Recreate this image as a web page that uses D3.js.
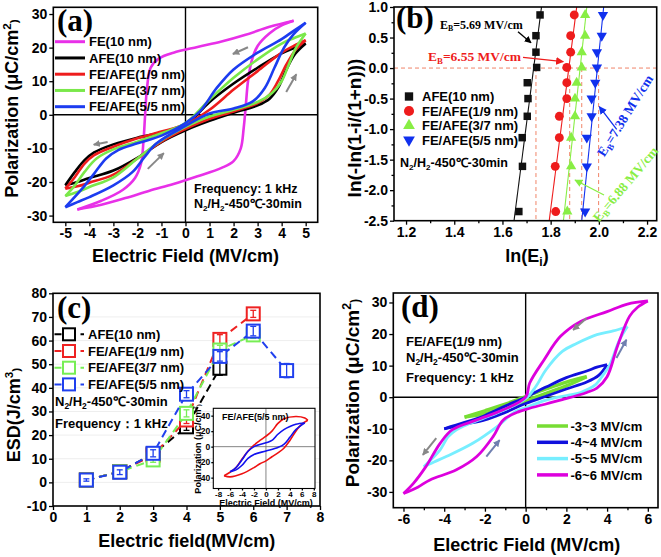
<!DOCTYPE html>
<html><head><meta charset="utf-8">
<script src="https://cdn.jsdelivr.net/npm/d3@7"></script>
<style>body{margin:0;background:#fff}svg{display:block}</style>
</head><body>
<svg id="c" width="661" height="557"></svg>
<script>
// ================= DATA =================
// Panel (a): P-E loops, [E (MV/cm), P (uC/cm2)], ascending & descending branches
const aNames = ["FE(10 nm)","AFE(10 nm)","FE/AFE(1/9 nm)","FE/AFE(3/7 nm)","FE/AFE(5/5 nm)"];
const aColors = ["#e830e8","#000000","#ee1c1c","#7ae84a","#1c3cf0"];
const aFE_up = [[-4.5,-28.2],[-3.5,-26.8],[-2.5,-24.8],[-1.5,-22.6],[-0.5,-20.6],[0.5,-18.3],[1.5,-15.8],[2.0,-13.8],[2.3,-10],[2.42,-4],[2.5,2],[2.6,10],[2.75,16],[3.0,20.5],[3.5,24.3],[4.0,26.6],[4.5,28]];
const aFE_dn = [[4.5,28],[3.5,26.2],[2.5,23.8],[1.5,21.8],[0.5,20.2],[-0.5,18.5],[-1.1,16.8],[-1.45,14],[-1.6,8],[-1.68,0],[-1.75,-8],[-1.85,-14.5],[-2.1,-18.8],[-2.6,-22.3],[-3.5,-25.6],[-4.5,-28.2]];
const aAFE_up = [[-5,-21],[-4.5,-20],[-4,-18.8],[-3,-16.6],[-2,-12.8],[-1,-8.1],[0,-4.6],[1,-1.8],[2,0.6],[3,2.8],[3.5,4.8],[3.85,8],[4.2,13.5],[4.55,18],[5,21.2]];
const aAFE_dn = [[5,21.2],[4.5,19.8],[4,18.3],[3,14],[2,9.3],[1,3.8],[0,-3],[-1,-5.3],[-2,-6.8],[-3,-8.8],[-3.8,-11.2],[-4.2,-13.5],[-4.6,-17],[-5,-21]];
const a19_up = [[-5,-22],[-4.5,-21.3],[-4,-20.2],[-3,-17.8],[-2,-13],[-1,-8],[0,-4.2],[1,-1.2],[2,1],[3,3.5],[3.5,6],[3.85,10],[4.2,15],[4.6,19.5],[5,22.2]];
const a19_dn = [[5,22.2],[4.5,20.5],[4,18.5],[3,13],[2,7.5],[1,1.5],[0,-2.8],[-1,-5],[-2,-7],[-3,-9.5],[-3.8,-12],[-4.2,-14.5],[-4.6,-18.5],[-5,-22]];
const a37_up = [[-5,-24.2],[-4.5,-23],[-4,-21.5],[-3,-18.6],[-2,-13],[-1,-7.6],[0,-3.6],[1,-0.5],[2,1.5],[3,3.8],[3.6,6.5],[4,10],[4.3,15],[4.6,20],[5,24.2]];
const a37_dn = [[5,24.2],[4.5,22.8],[4,21.2],[3,16.5],[2,11],[1,4.5],[0,-2.5],[-1,-5.5],[-2,-8],[-3,-10.3],[-3.7,-13],[-4.2,-17],[-4.6,-21],[-5,-24.2]];
const a55_up = [[-5,-27.5],[-4.5,-26],[-4,-24.5],[-3,-21],[-2.2,-17],[-1.7,-12.5],[-1.2,-8.5],[0,-3.3],[1,0.4],[2,1.9],[2.8,4],[3.3,8],[3.7,14],[4.1,20],[4.5,24],[5,27.4]];
const a55_dn = [[5,27.4],[4.5,25],[4,22.5],[3,18.5],[2,13.5],[1.3,8],[0.6,1],[0,-2.5],[-1,-6.2],[-2,-8.5],[-2.8,-10.5],[-3.3,-13],[-3.8,-17.5],[-4.3,-22],[-5,-27.5]];
const aArrows = [[2.6,20.1,1.97,18.1],[4.19,6.8,4.61,12.1],[-3.24,-8.1,-3.82,-8.9],[-1.57,-16.1,-0.9,-11.4]];
const aXTicks = [-5,-4,-3,-2,-1,0,1,2,3,4,5];
const aYTicks = [-30,-20,-10,0,10,20,30];

// Panel (b): Weibull plot
const bNames = ["AFE(10 nm)","FE/AFE(1/9 nm)","FE/AFE(3/7 nm)","FE/AFE(5/5 nm)"];
const bColors = ["#111111","#ee1c1c","#88ee44","#1030ee"];
const bY = [-2.35,-1.61,-1.14,-0.79,-0.50,-0.24,0.01,0.26,0.53,0.87];
const bX_AFE = [1.668,1.683,1.682,1.703,1.706,1.703,1.742,1.739,1.739,1.756];
const bX_19  = [1.821,1.819,1.836,1.836,1.867,1.867,1.867,1.883,1.883,1.898];
const bX_37  = [1.869,1.885,1.885,1.901,1.901,1.908,1.929,1.929,1.943,1.943];
const bX_55  = [1.943,1.950,1.950,1.970,1.970,1.985,1.992,1.992,2.012,2.017];
const bFitBottom = [1.648,1.794,1.853,1.929];   // x at y=-2.5
const bFitTop    = [1.762,1.908,1.950,2.020];   // x at y=1.0
const bLnEB = [1.739,1.879,1.929,1.999];
const bXTicks = [1.2,1.4,1.6,1.8,2.0,2.2];
const bXMinor = [1.3,1.5,1.7,1.9,2.1];
const bYTicks = [-2.5,-2.0,-1.5,-1.0,-0.5,0.0,0.5,1.0];
const bYMinor = [-2.25,-1.75,-1.25,-0.75,-0.25,0.25,0.75];

// Panel (c): ESD vs field
const cNames = ["AFE(10 nm)","FE/AFE(1/9 nm)","FE/AFE(3/7 nm)","FE/AFE(5/5 nm)"];
const cColors = ["#000000","#ee2222","#77ee55","#2040ee"];
const cField_AFE = [1,2,3,4,5];
const cESD_AFE   = [1,4.5,12,23.5,48.3];
const cErr_AFE   = [0.5,1,1,1.5,3];
const cField_19 = [1,2,3,4,5,6];
const cESD_19   = [1,4.5,11.5,26.4,60.5,71.3];
const cErr_19   = [0.5,1,1,1.5,2,1.5];
const cField_37 = [1,2,3,4,5,6];
const cESD_37   = [1,4.5,9.5,29.2,56,62.4];
const cErr_37   = [0.5,1,1,1.5,2,1.5];
const cField_55 = [1,2,3,4,5,6,7];
const cESD_55   = [1,4.3,12.3,37.3,53.3,64,47.3];
const cErr_55   = [0.5,1,1.5,1.5,2,2,3];
const cXTicks = [0,1,2,3,4,5,6,7,8];
const cYTicks = [-10,0,10,20,30,40,50,60,70,80];
// inset loops
const iRed_up = [[-7,-37.5],[-6,-39],[-4,-35],[-2,-27],[-1,-22],[0,-18.4],[1,-13],[2,-8],[3,-2],[4,8],[5,20],[6,29],[7,34]];
const iRed_dn = [[7,34],[6.5,37],[5,39],[3,36],[2,30],[1,20],[0,13.5],[-1,8],[-2,2],[-3,-6],[-4,-16],[-5,-27],[-6,-33],[-7,-37.5]];
const iBlue_up = [[-6,-32.4],[-5,-30],[-4,-24],[-3,-15],[-2,-10],[0,-5.6],[2,-1],[3,3],[4,12],[5,22],[6.5,30.6]];
const iBlue_dn = [[6.5,30.6],[5,29],[4,26],[3,22],[2,16],[1,8],[0,5],[-2,0],[-3,-6],[-4,-17],[-5,-27],[-6,-32.4]];
const iXTicks = [-8,-6,-4,-2,0,2,4,6,8];
const iYTicks = [-40,-20,0,20,40];

// Panel (d): loops at different fields
const dNames = ["-3~3 MV/cm","-4~4 MV/cm","-5~5 MV/cm","-6~6 MV/cm"];
const dColors = ["#77dd33","#1010dd","#77eeff","#dd00dd"];
const d3_up = [[-3,-6.3],[-2,-5.2],[-1,-3.4],[0,-1.2],[1,1.2],[2,3.6],[3,6.5]];
const d3_dn = [[3,6.5],[2,4.8],[1,2.6],[0,0.2],[-1,-2.2],[-2,-4.3],[-3,-6.3]];
const d4_up = [[-4,-10],[-3,-8.6],[-2,-7.2],[-1,-4.8],[0,-2],[1,0.3],[2,2.6],[3,4.8],[3.6,7],[4,10.3]];
const d4_dn = [[4,10.3],[3.5,9.5],[3,8.3],[2,6.2],[1,3.2],[0,0],[-1,-2.8],[-2,-5.8],[-3,-8],[-4,-10]];
const d5_up = [[-5,-22],[-4.5,-20.5],[-3.9,-18.8],[-2.6,-14.6],[-1.4,-9.3],[-0.5,-4.5],[0,-3.3],[1,-0.9],[2,0.5],[2.7,1.5],[3.4,3.8],[3.8,7],[4.15,10.5],[4.6,18],[5,22.4]];
const d5_dn = [[5,22.4],[4.3,21],[3.5,19.8],[2.5,17],[1.8,14.5],[1.0,8.7],[0.5,3.4],[0,-0.5],[-1.4,-5],[-2.7,-8.2],[-3.4,-10.3],[-3.8,-12.5],[-4.2,-16.7],[-4.6,-19.5],[-5,-22]];
const d6_up = [[-6,-30.5],[-5.3,-28.5],[-4.7,-26.2],[-3.4,-23],[-2.4,-18.8],[-1.6,-12.5],[-1.1,-7.2],[-0.3,-4.5],[0.2,-3.5],[1.8,-0.8],[3.0,1.5],[3.5,2.9],[4.0,6.5],[4.5,16],[5.1,25.6],[5.5,28.5],[6,30.5]];
const d6_dn = [[6,30.5],[5,29.5],[4,27.1],[2.7,24],[1.7,19.2],[0.9,11.8],[0.2,4.5],[0,0],[-1.1,-4],[-2.4,-7.2],[-3.6,-10.3],[-4.2,-14.6],[-4.9,-22],[-5.5,-27.2],[-6,-30.5]];
const dArrows = [[2.99,25.0,2.33,21.3,"#888888"],[4.46,12.4,4.95,18.2,"#7080b0"],[-4.39,-13.0,-5.05,-18.3,"#888888"],[-1.93,-18.8,-1.28,-13.6,"#7080b0"]];
const dXTicks = [-6,-4,-2,0,2,4,6];
const dXMinor = [-5,-3,-1,1,3,5];
const dYTicks = [-30,-20,-10,0,10,20,30];

// ================= DRAWING =================
const SANS = '"Liberation Sans", Arial, Helvetica, sans-serif';
const SERIF = '"Liberation Serif", "Times New Roman", serif';
const svg = d3.select("#c");
svg.append("rect").attr("width",661).attr("height",557).attr("fill","#fff");
const defs = svg.append("defs");
function mkArrow(id, color, s){
  defs.append("marker").attr("id",id).attr("viewBox","0 0 10 10").attr("refX",9).attr("refY",5)
    .attr("markerWidth",s).attr("markerHeight",s).attr("orient","auto").attr("markerUnits","userSpaceOnUse")
    .append("path").attr("d","M0,0L10,5L0,10z").attr("fill",color);
}
mkArrow("ag","#888888",7); mkArrow("ab","#7080b0",7);
mkArrow("k","#000",7); mkArrow("r","#ee1c1c",8); mkArrow("bl","#1030ee",8); mkArrow("gr","#88ee44",8);

function styleAxis(s, fs){
  s.select(".domain").remove();
  s.selectAll("line").attr("stroke","#000").attr("stroke-width",1.3);
  s.selectAll("text").attr("font-size",fs).attr("font-family",SANS).attr("font-weight","bold").attr("fill","#000");
}
function axes(g, x, y, o){
  const [xa,xb] = x.range(), [ya,yb] = y.range();
  const fs = o.fs || 14;
  if (o.xminor) g.append("g").attr("transform",`translate(0,${ya})`).call(d3.axisBottom(x).tickValues(o.xminor).tickSize(o.mt||2.5).tickFormat("")).call(s=>styleAxis(s,fs));
  if (o.yminor) g.append("g").attr("transform",`translate(${xa},0)`).call(d3.axisLeft(y).tickValues(o.yminor).tickSize(o.mt||2.5).tickFormat("")).call(s=>styleAxis(s,fs));
  g.append("g").attr("transform",`translate(0,${ya})`).call(d3.axisBottom(x).tickValues(o.xt).tickSize(o.tl||4).tickPadding(o.xp||2).tickFormat(o.xf||(d=>d))).call(s=>styleAxis(s,o.xfs||fs));
  g.append("g").attr("transform",`translate(${xa},0)`).call(d3.axisLeft(y).tickValues(o.yt).tickSize(o.tl||4).tickPadding(o.yp||2).tickFormat(o.yf||(d=>d))).call(s=>styleAxis(s,fs));
  g.append("rect").attr("x",xa).attr("y",yb).attr("width",xb-xa).attr("height",ya-yb)
    .attr("fill","none").attr("stroke","#000").attr("stroke-width",o.bw||1.6);
}
function txt(g, x, y, s, fs, o={}){
  return g.append("text").attr("x",x).attr("y",y).text(s).attr("font-size",fs)
    .attr("font-family",o.serif?SERIF:SANS).attr("font-weight","bold").attr("fill",o.fill||"#000")
    .attr("text-anchor",o.anchor||"start");
}
function chem(g, x, y, fs){
  const t = g.append("text").attr("x",x).attr("y",y).attr("font-size",fs).attr("font-family",SANS).attr("font-weight","bold");
  t.append("tspan").text("N");
  t.append("tspan").text("2").attr("font-size",fs*0.65).attr("dy",fs*0.25);
  t.append("tspan").text("/H").attr("dy",-fs*0.25);
  t.append("tspan").text("2").attr("font-size",fs*0.65).attr("dy",fs*0.25);
  t.append("tspan").text("-450℃-30min").attr("dy",-fs*0.25);
  return t;
}
function ylabel(g, x, y, parts, fs){
  const t = g.append("text").attr("transform",`translate(${x},${y}) rotate(-90)`).attr("text-anchor","middle")
    .attr("font-size",fs).attr("font-family",SANS).attr("font-weight","bold");
  parts.forEach(p=>{ const s=t.append("tspan").text(p[0]); if(p[1]) s.attr("font-size",fs*0.65).attr("dy",p[1]*fs); });
  return t;
}
const loopLine = (x,y) => d3.line().x(d=>x(d[0])).y(d=>y(d[1])).curve(d3.curveCatmullRom.alpha(0.5));

// ---------- Panel (a) ----------
{
  const g = svg.append("g");
  const x = d3.scaleLinear([-5.5,5.5],[53.3,317.7]);
  const y = d3.scaleLinear([-32,32],[222.3,7.3]);
  g.append("line").attr("x1",x(0)).attr("x2",x(0)).attr("y1",y(-32)).attr("y2",y(32)).attr("stroke","#000").attr("stroke-width",1.4);
  g.append("line").attr("x1",x(-5.5)).attr("x2",x(5.5)).attr("y1",y(0)).attr("y2",y(0)).attr("stroke","#000").attr("stroke-width",1.4);
  const loops = [[aFE_up,aFE_dn],[aAFE_up,aAFE_dn],[a19_up,a19_dn],[a37_up,a37_dn],[a55_up,a55_dn]];
  const ln = loopLine(x,y);
  loops.forEach((L,i)=>L.forEach(br=>g.append("path").attr("d",ln(br)).attr("fill","none").attr("stroke",aColors[i]).attr("stroke-width",2.6)));
  aArrows.forEach(a=>g.append("line").attr("x1",x(a[0])).attr("y1",y(a[1])).attr("x2",x(a[2])).attr("y2",y(a[3]))
    .attr("stroke","#888").attr("stroke-width",2).attr("marker-end","url(#ag)"));
  axes(g,x,y,{xt:aXTicks,yt:aYTicks,fs:14});
  txt(g,57,31,"(a)",31,{serif:true});
  aNames.forEach((n,i)=>{
    const yy = 41.7 + i*16.25;
    g.append("line").attr("x1",55).attr("x2",85).attr("y1",yy).attr("y2",yy).attr("stroke",aColors[i]).attr("stroke-width",3);
    txt(g,89,yy+4.7,n,13);
  });
  txt(g,194,193,"Frequency: 1 kHz",12.5);
  chem(g,194,208,12.5);
  txt(g,185.5,262,"Electric Field (MV/cm)",18,{anchor:"middle"});
  ylabel(g,18,108.5,[["Polarization (μC/cm"],["2",-0.4],[")",0.4]],18);
}

// ---------- Panel (b) ----------
{
  const g = svg.append("g");
  const x = d3.scaleLinear([1.15,2.24],[394,656.7]);
  const y = d3.scaleLinear([-2.5,1.0],[220.7,7]);
  const dash = "#f08468";
  g.append("line").attr("x1",x(1.15)).attr("x2",x(2.24)).attr("y1",y(0)).attr("y2",y(0)).attr("stroke",dash).attr("stroke-width",1).attr("stroke-dasharray","4,3");
  bLnEB.forEach(v=>g.append("line").attr("x1",x(v)).attr("x2",x(v)).attr("y1",y(0)).attr("y2",y(-2.5)).attr("stroke",dash).attr("stroke-width",1).attr("stroke-dasharray","4,3"));
  const xs = [bX_AFE,bX_19,bX_37,bX_55];
  const syms = [d3.symbol(d3.symbolSquare,56), d3.symbol(d3.symbolCircle,62), d3.symbol(d3.symbolTriangle,46), d3.symbol(d3.symbolTriangle,46)];
  xs.forEach((arr,i)=>{
    g.append("line").attr("x1",x(bFitBottom[i])).attr("y1",y(-2.5)).attr("x2",x(bFitTop[i])).attr("y2",y(1.0)).attr("stroke",bColors[i]).attr("stroke-width",1.1);
    arr.forEach((v,j)=>g.append("path").attr("d",syms[i]()).attr("fill",bColors[i])
      .attr("transform",`translate(${x(v)},${y(bY[j])})${i===3?" rotate(180)":""}`));
  });
  axes(g,x,y,{xt:bXTicks,yt:bYTicks,xminor:bXMinor,yminor:bYMinor,fs:14,xf:d=>d.toFixed(1),yf:d=>d.toFixed(1)});
  // legend
  const lsyms = [d3.symbol(d3.symbolSquare,70), d3.symbol(d3.symbolCircle,80), d3.symbol(d3.symbolTriangle,60), d3.symbol(d3.symbolTriangle,60)];
  bNames.forEach((n,i)=>{
    const yy = 96.5 + i*14.5;
    g.append("path").attr("d",lsyms[i]()).attr("fill",bColors[i]).attr("transform",`translate(409,${yy})${i===3?" rotate(180)":""}`);
    txt(g,422,yy+4.6,n,13);
  });
  chem(g,400,167,12.5);
  txt(g,396,28,"(b)",31,{serif:true});
  const eb = (gx,gy,val,fs,col,rot)=>{
    const t = g.append("text").attr("font-size",fs).attr("font-family",SERIF).attr("font-weight","bold").attr("fill",col)
      .attr("transform",`translate(${gx},${gy}) rotate(${rot})`).attr("text-anchor",rot?"middle":"start");
    t.append("tspan").text("E");
    t.append("tspan").text("B").attr("font-size",fs*0.65).attr("dy",fs*0.2);
    t.append("tspan").text("="+val+" MV/cm").attr("dy",-fs*0.2);
  };
  eb(440,29,"5.69",12,"#000",0);
  eb(428,61,"6.55",13.5,"#ee1c1c",0);
  eb(629,118,"7.38",13.5,"#1030ee",-58);
  eb(629,187,"6.88",13.5,"#88ee44",-50);
  const arr = (x1,y1,x2,y2,c,m)=>g.append("line").attr("x1",x1).attr("y1",y1).attr("x2",x2).attr("y2",y2).attr("stroke",c).attr("stroke-width",1.3).attr("marker-end",`url(#${m})`);
  arr(518,31.7,531,42.7,"#000","k");
  arr(523,57.3,563.3,61.7,"#ee1c1c","r");
  arr(616.7,129.3,599.3,106.7,"#1030ee","bl");
  arr(604,195,575,180,"#88ee44","gr");
  const xl = g.append("text").attr("x",527).attr("y",262).attr("text-anchor","middle").attr("font-size",18).attr("font-family",SANS).attr("font-weight","bold");
  xl.append("tspan").text("ln(E"); xl.append("tspan").text("i").attr("font-size",12).attr("dy",4); xl.append("tspan").text(")").attr("dy",-4);
  ylabel(g,361,128,[["ln(-ln(1-i/(1+n)))"]],19);
}

// ---------- Panel (c) ----------
{
  const g = svg.append("g");
  const x = d3.scaleLinear([0,8],[53,320]);
  const y = d3.scaleLinear([-10,80],[506,293.3]);
  cYTicks.filter(v=>v>-10&&v<80).forEach(v=>g.append("line").attr("x1",x(0)).attr("x2",x(8)).attr("y1",y(v)).attr("y2",y(v)).attr("stroke","#eeeeee").attr("stroke-width",1));
  const series = [[cField_AFE,cESD_AFE,cErr_AFE],[cField_19,cESD_19,cErr_19],[cField_37,cESD_37,cErr_37],[cField_55,cESD_55,cErr_55]];
  const line = d3.line().x(d=>x(d[0])).y(d=>y(d[1]));
  series.forEach((s,i)=>{
    const pts = s[0].map((f,j)=>[f,s[1][j],s[2][j]]);
    g.append("path").attr("d",line(pts)).attr("fill","none").attr("stroke",cColors[i]).attr("stroke-width",2).attr("stroke-dasharray","8,5");
    pts.forEach(p=>{
      const cx=x(p[0]), cy=y(p[1]);
      g.append("rect").attr("x",cx-6.5).attr("y",cy-6.5).attr("width",13).attr("height",13).attr("fill","#fff").attr("stroke",cColors[i]).attr("stroke-width",2);
      g.append("line").attr("x1",cx).attr("x2",cx).attr("y1",y(p[1]-p[2])).attr("y2",y(p[1]+p[2])).attr("stroke",cColors[i]).attr("stroke-width",1.3);
      [p[1]-p[2],p[1]+p[2]].forEach(v=>g.append("line").attr("x1",cx-3).attr("x2",cx+3).attr("y1",y(v)).attr("y2",y(v)).attr("stroke",cColors[i]).attr("stroke-width",1.3));
    });
  });
  axes(g,x,y,{xt:cXTicks,yt:cYTicks,fs:14});
  txt(g,57,318,"(c)",31,{serif:true});
  cNames.forEach((n,i)=>{
    const yy = 334.3 + i*16.7;
    g.append("line").attr("x1",54).attr("x2",84).attr("y1",yy).attr("y2",yy).attr("stroke",cColors[i]).attr("stroke-width",2).attr("stroke-dasharray","7,6").attr("stroke-dashoffset",-0.5);
    g.append("rect").attr("x",63).attr("y",yy-6).attr("width",12).attr("height",12).attr("fill","#fff").attr("stroke",cColors[i]).attr("stroke-width",2);
    txt(g,88,yy+4.6,n,13);
  });
  chem(g,55,406,13);
  txt(g,55,428,"Frequency：1 kHz",13);
  txt(g,186.7,547,"Electric field(MV/cm)",18,{anchor:"middle"});
  ylabel(g,20,415,[["ESD(J/cm"],["3",-0.4],[")",0.4]],18);
  // inset
  const ix = d3.scaleLinear([-8.8,8.2],[213.3,315]);
  const iy = d3.scaleLinear([-54,49.5],[488.5,408.3]);
  const gi = g.append("g");
  gi.append("rect").attr("x",213.3).attr("y",408.3).attr("width",315-213.3).attr("height",488.5-408.3).attr("fill","#fff");
  gi.append("line").attr("x1",ix(0)).attr("x2",ix(0)).attr("y1",iy(-54)).attr("y2",iy(49.5)).attr("stroke","#666").attr("stroke-width",0.8);
  gi.append("line").attr("x1",ix(-8.8)).attr("x2",ix(8.2)).attr("y1",iy(0)).attr("y2",iy(0)).attr("stroke","#666").attr("stroke-width",0.8);
  const il = loopLine(ix,iy);
  [iRed_up,iRed_dn].forEach(b=>gi.append("path").attr("d",il(b)).attr("fill","none").attr("stroke","#ee1111").attr("stroke-width",1.6));
  [iBlue_up,iBlue_dn].forEach(b=>gi.append("path").attr("d",il(b)).attr("fill","none").attr("stroke","#1111ee").attr("stroke-width",1.6));
  axes(gi,ix,iy,{xt:iXTicks,yt:iYTicks,fs:8.5,xfs:8,tl:2,xp:0.5,yp:1,bw:1.1});
  txt(gi,222,420,"FE/AFE(5/5 nm)",9);
  txt(gi,266,506,"Electric Field (MV/cm)",9,{anchor:"middle"});
  ylabel(gi,201,449,[["Polarization (μC/cm"],["2",-0.4],[")",0.4]],9);
}

// ---------- Panel (d) ----------
{
  const g = svg.append("g");
  const x = d3.scaleLinear([-6.5,6.5],[393.3,658]);
  const y = d3.scaleLinear([-35,33],[507.7,293]);
  g.append("line").attr("x1",x(0)).attr("x2",x(0)).attr("y1",y(-35)).attr("y2",y(33)).attr("stroke","#000").attr("stroke-width",1.4);
  g.append("line").attr("x1",x(-6.5)).attr("x2",x(6.5)).attr("y1",y(0)).attr("y2",y(0)).attr("stroke","#000").attr("stroke-width",1.4);
  const loops = [[d3_up,d3_dn],[d4_up,d4_dn],[d5_up,d5_dn],[d6_up,d6_dn]];
  const ln = loopLine(x,y);
  loops.forEach((L,i)=>L.forEach(br=>g.append("path").attr("d",ln(br)).attr("fill","none").attr("stroke",dColors[i]).attr("stroke-width",i===0?3.4:2.8)));
  dArrows.forEach(a=>g.append("line").attr("x1",x(a[0])).attr("y1",y(a[1])).attr("x2",x(a[2])).attr("y2",y(a[3]))
    .attr("stroke",a[4]).attr("stroke-width",2).attr("marker-end",a[4]==="#888888"?"url(#ag)":"url(#ab)"));
  axes(g,x,y,{xt:dXTicks,xminor:dXMinor,yt:dYTicks,fs:14});
  txt(g,401,317,"(d)",31,{serif:true});
  txt(g,406,346,"FE/AFE(1/9 nm)",13);
  chem(g,406,361.5,13);
  txt(g,406,382,"Frequency: 1 kHz",13);
  dNames.forEach((n,i)=>{
    const yy = 426 + i*16.3;
    g.append("line").attr("x1",537).attr("x2",568).attr("y1",yy).attr("y2",yy).attr("stroke",dColors[i]).attr("stroke-width",3.5);
    txt(g,570.5,yy+4.7,n,13);
  });
  txt(g,526.7,551,"Electric Field (MV/cm)",18,{anchor:"middle"});
  ylabel(g,359,393,[["Polarization (μC/cm"],["2",-0.4],[")",0.4]],19);
}
</script>
</body></html>
